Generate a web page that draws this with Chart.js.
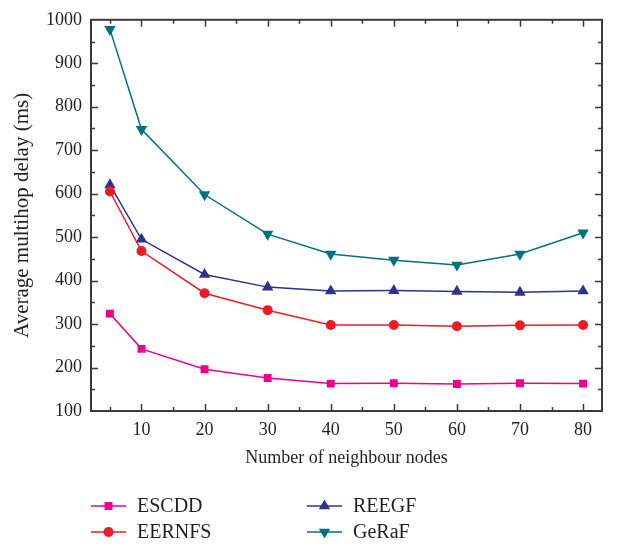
<!DOCTYPE html>
<html>
<head>
<meta charset="utf-8">
<script src="https://cdn.jsdelivr.net/npm/chart.js@4.4.1/dist/chart.umd.min.js"></script>
<style>
  html, body { margin: 0; padding: 0; background: #fff; }
  #wrap { width: 624px; height: 545px; }
</style>
</head>
<body>
<div id="wrap"><canvas id="chart" width="624" height="545"></canvas></div>
<script>
// number of neighbour nodes
const nodes = [5, 10, 20, 30, 40, 50, 60, 70, 80];
const xTicks = [10, 20, 30, 40, 50, 60, 70, 80];

// average multihop delay (ms)
const escdd = [324, 243, 196, 176, 163, 164, 162, 164, 163];
const eernfs = [605, 468, 371, 332, 298, 298, 295, 297, 298];
const reegf = [620, 495, 414, 385, 376, 377, 375, 373, 376];
const geraf = [978, 748, 598, 507, 461, 447, 436, 461, 510];

const textColor = "#231f20";
const serif = "'Liberation Serif', 'DejaVu Serif', serif";

const toPoints = (vals) => vals.map((v, i) => ({ x: nodes[i], y: v }));

const series = [
    { label: "ESCDD", data: escdd, color: "#ec008c", style: "rect", radius: 5.6, rot: 0 },
    { label: "EERNFS", data: eernfs, color: "#ed1c24", style: "circle", radius: 5, rot: 0 },
    { label: "REEGF", data: reegf, color: "#2e3192", style: "triangle", radius: 6.6, rot: 0 },
    { label: "GeRaF", data: geraf, color: "#00727f", style: "triangle", radius: 6.6, rot: 180 },
];

// frame + inward ticks on all four sides
const framePlugin = {
    id: "frame",
    beforeDatasetsDraw(chart) {
        const { ctx, chartArea: a, scales } = chart;
        const xs = scales.x, ys = scales.y;
        ctx.save();
        ctx.strokeStyle = "#3a3a3a";
        ctx.lineWidth = 1.5;
        ctx.beginPath();
        for (let v = 5; v <= 80; v += 5) {
            const len = v % 10 === 0 ? 7 : 4;
            const px = Math.round(xs.getPixelForValue(v)) + 0.5;
            ctx.moveTo(px, a.bottom); ctx.lineTo(px, a.bottom - len);
            ctx.moveTo(px, a.top); ctx.lineTo(px, a.top + len);
        }
        for (let v = 150; v < 1000; v += 50) {
            const len = v % 100 === 0 ? 7 : 4;
            const py = Math.round(ys.getPixelForValue(v)) + 0.5;
            ctx.moveTo(a.left, py); ctx.lineTo(a.left + len, py);
            ctx.moveTo(a.right, py); ctx.lineTo(a.right - len, py);
        }
        ctx.stroke();
        ctx.lineWidth = 2;
        ctx.strokeRect(a.left, a.top, a.right - a.left, a.bottom - a.top);
        ctx.restore();
    }
};

// two column legend under the axis title
const legendPlugin = {
    id: "colLegend",
    afterDraw(chart) {
        const { ctx } = chart;
        const spots = [[91, 506], [91, 532], [307, 506], [307, 532]];
        ctx.save();
        ctx.font = "20px " + serif;
        ctx.textBaseline = "middle";
        ctx.fillStyle = textColor;
        series.forEach((s, i) => {
            const [x, y] = spots[i];
            ctx.strokeStyle = s.color;
            ctx.lineWidth = 1.5;
            ctx.beginPath();
            ctx.moveTo(x, y); ctx.lineTo(x + 35, y);
            ctx.stroke();
            ctx.fillStyle = s.color;
            Chart.helpers.drawPoint(ctx, {
                pointStyle: s.style, radius: s.radius, rotation: s.rot, borderWidth: 0
            }, x + 17.5, y);
            ctx.fillStyle = textColor;
            ctx.fillText(s.label, x + 46, y + 1);
        });
        ctx.restore();
    }
};

new Chart(document.getElementById("chart"), {
    type: "line",
    plugins: [framePlugin, legendPlugin],
    data: {
        datasets: series.map(s => ({
            label: s.label,
            data: toPoints(s.data),
            borderColor: s.color,
            backgroundColor: s.color,
            borderWidth: 1.5,
            pointStyle: s.style,
            pointRadius: s.radius,
            pointRotation: s.rot,
            pointBorderWidth: 0,
            tension: 0,
        })),
    },
    options: {
        responsive: false,
        animation: false,
        layout: { padding: { left: 0, right: 22, top: 16, bottom: 0 } },
        plugins: {
            legend: { display: false },
            tooltip: { enabled: false },
        },
        scales: {
            x: {
                type: "linear",
                min: 2,
                max: 83,
                afterBuildTicks: (scale) => {
                    scale.ticks = xTicks.map(v => ({ value: v }));
                },
                afterFit: (scale) => { scale.height = 134; },
                grid: { display: false, drawTicks: false },
                border: { display: false },
                ticks: {
                    padding: 8,
                    color: textColor,
                    font: { family: serif, size: 18 },
                    maxRotation: 0,
                    callback: (v) => String(v),
                },
                title: {
                    display: true,
                    text: "Number of neighbour nodes",
                    color: textColor,
                    font: { family: serif, size: 18 },
                    padding: { top: 0, bottom: 76 },
                },
            },
            y: {
                min: 100,
                max: 1000,
                afterFit: (scale) => { scale.width = 91; },
                grid: { display: false, drawTicks: false },
                border: { display: false },
                ticks: {
                    stepSize: 100,
                    padding: 9,
                    color: textColor,
                    font: { family: serif, size: 18 },
                    callback: (v) => String(v),
                },
                title: {
                    display: true,
                    text: "Average multihop delay (ms)",
                    color: textColor,
                    font: { family: serif, size: 21 },
                    padding: { top: 10, bottom: 0 },
                },
            },
        },
    },
});
</script>
</body>
</html>
